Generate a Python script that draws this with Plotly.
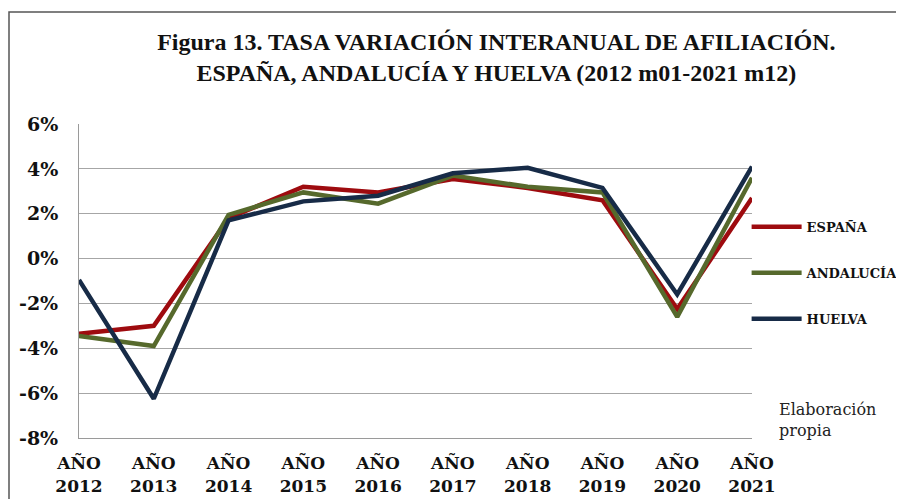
import plotly.graph_objects as go

years = ["AÑO<br>2012", "AÑO<br>2013", "AÑO<br>2014", "AÑO<br>2015", "AÑO<br>2016",
         "AÑO<br>2017", "AÑO<br>2018", "AÑO<br>2019", "AÑO<br>2020", "AÑO<br>2021"]
espana = [-3.35, -3.0, 1.8, 3.2, 2.95, 3.55, 3.15, 2.6, -2.25, 2.7]
andalucia = [-3.45, -3.9, 1.95, 2.95, 2.45, 3.7, 3.2, 2.95, -2.6, 3.6]
huelva = [-0.95, -6.25, 1.7, 2.55, 2.8, 3.8, 4.05, 3.15, -1.6, 4.1]
y_ticks = [6, 4, 2, 0, -2, -4, -6, -8]
y_tick_text = ["6%", "4%", "2%", "0%", "-2%", "-4%", "-6%", "-8%"]

series = [("ESPAÑA", espana, "#9e0b0f"),
          ("ANDALUCÍA", andalucia, "#56692c"),
          ("HUELVA", huelva, "#172b47")]

FONT = "DejaVu Serif"
W, H = 896, 491  # page body has an 8px margin
L, R, T, B = 71, 152, 116, 61
PW, PH = W - L - R, H - T - B

fig = go.Figure()
x = list(range(len(years)))
for name, vals, col in series:
    fig.add_trace(go.Scatter(x=x, y=vals, name="<b>" + name + "</b>", mode="lines",
                             legendgroup=name,
                             line=dict(color=col, width=4.5)))

fig.update_layout(
    width=W, height=H,
    margin=dict(l=L, r=R, t=T, b=B, autoexpand=False),
    paper_bgcolor="white", plot_bgcolor="white",
    title=dict(text="<b>Figura 13. TASA VARIACIÓN INTERANUAL DE AFILIACIÓN.<br>ESPAÑA, ANDALUCÍA Y HUELVA (2012 m01-2021 m12)</b>",
               x=0.545, xanchor="center", y=0.914, yanchor="middle",
               font=dict(family="Liberation Serif", size=24, color="#111")),
    showlegend=True,
    legend=dict(x=0.992, y=0.72, xanchor="left", yanchor="top",
                font=dict(family=FONT, size=13, color="#111"),
                tracegroupgap=26, itemwidth=50, bgcolor="rgba(0,0,0,0)"),
    xaxis=dict(tickmode="array", tickvals=x, ticktext=["<b>" + t + "</b>" for t in years], range=[0, 9],
               showgrid=False, showline=True, linecolor="#9a9a9a", linewidth=1,
               ticks="", automargin=False, ticklabelstandoff=10,
               tickfont=dict(family=FONT, size=17, color="#111")),
    yaxis=dict(tickmode="array", tickvals=y_ticks, ticktext=["<b>" + t + "</b>" for t in y_tick_text], range=[-8, 6],
               showgrid=True, gridcolor="#a6a6a6", gridwidth=1, zeroline=False,
               showline=True, linecolor="#9a9a9a", linewidth=1, ticks="",
               ticklabelstandoff=16, automargin=False,
               tickfont=dict(family=FONT, size=19, color="#111")),
    shapes=[dict(type="rect", xref="paper", yref="paper",
                 x0=(1 - L) / PW, x1=1.4, y0=-0.5, y1=1 + (T - 4) / PH,
                 line=dict(color="#555", width=1.5), fillcolor="rgba(0,0,0,0)", layer="above")],
    annotations=[dict(text="Elaboración<br>propia", xref="paper", yref="paper",
                      x=(777 - 79) / PW, y=(438 - 398) / PH, xanchor="left", yanchor="top",
                      align="left", showarrow=False,
                      font=dict(family=FONT, size=16, color="#222"))],
)
fig.write_html("out.html")
